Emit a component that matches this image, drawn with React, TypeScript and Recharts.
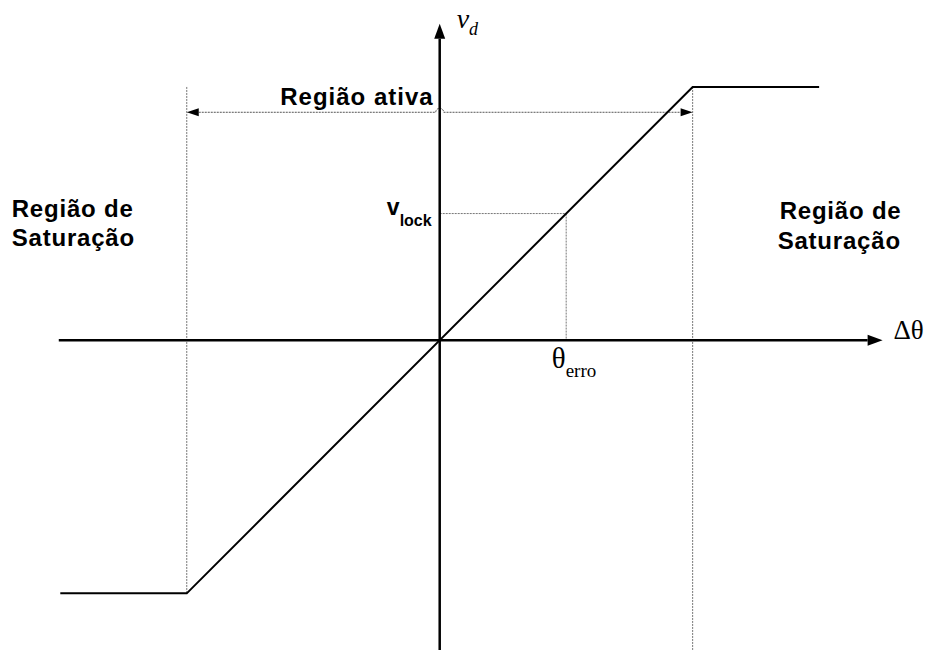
import { LineChart, Line, XAxis, YAxis, ReferenceLine, ReferenceDot } from 'recharts';

// phase detector characteristic: vd vs phase error (saturation at +-1)
const phaseError = [-1.5, -1, 1, 1.5];
const detectorOut = [-1, -1, 1, 1];

const activeRange = [-1, 1];
const thetaErro = 0.5;
const vLock = 0.5;

const axisX = [-1.506, 1.751];
const axisY = [-1.23, 1.25];
const activeArrowY = 0.9;

const data = phaseError.map((x, i) => ({ x, vd: detectorOut[i] }));

const SANS = '"Liberation Sans", Arial, sans-serif';
const SERIF = '"Liberation Serif", "Times New Roman", serif';

const arrowAxis = (props: any) => {
  const { x1, y1, x2, y2 } = props;
  const ang = Math.atan2(y2 - y1, x2 - x1);
  const len = 15;
  const half = 5.5;
  const bx = x2 - len * Math.cos(ang);
  const by = y2 - len * Math.sin(ang);
  const px = -Math.sin(ang) * half;
  const py = Math.cos(ang) * half;
  return (
    <g>
      <line x1={x1} y1={y1} x2={bx} y2={by} stroke="#000" strokeWidth={2.5} />
      <polygon points={`${x2},${y2} ${bx + px},${by + py} ${bx - px},${by - py}`} fill="#000" />
    </g>
  );
};

const dottedLine = (props: any) => {
  const { x1, y1, x2, y2 } = props;
  return <line x1={x1} y1={y1} x2={x2} y2={y2} stroke="#777" strokeWidth={1} strokeDasharray="2 1" />;
};

const doubleArrow = (props: any) => {
  const { x1, y1, x2 } = props;
  const y = y1;
  const left = Math.min(x1, x2);
  const right = Math.max(x1, x2);
  const mid = props.hopX;
  const len = 12;
  const half = 4;
  return (
    <g>
      <path
        d={`M${left + len},${y} L${mid - 4},${y} A4 4 0 0 1 ${mid + 4},${y} L${right - len},${y}`}
        stroke="#555"
        strokeWidth={1}
        strokeDasharray="2 1"
        fill="none"
      />
      <polygon points={`${left},${y} ${left + len},${y - half} ${left + len},${y + half}`} fill="#000" />
      <polygon points={`${right},${y} ${right - len},${y - half} ${right - len},${y + half}`} fill="#000" />
    </g>
  );
};

export default function App() {
  return (
    <div style={{ position: 'absolute', left: 0, top: 0, background: '#fff' }}>
      <LineChart width={928} height={650} data={data} margin={{ top: 11, right: 33, bottom: 6, left: 35 }}>
        <XAxis dataKey="x" type="number" domain={[-1.6, 1.8]} allowDataOverflow hide />
        <YAxis type="number" domain={[-1.2, 1.3]} allowDataOverflow hide />

        {/* guides */}
        <ReferenceLine segment={[{ x: activeRange[0], y: 1 }, { x: activeRange[0], y: -1 }]} ifOverflow="visible" shape={dottedLine} />
        <ReferenceLine segment={[{ x: activeRange[1], y: 1 }, { x: activeRange[1], y: axisY[0] }]} ifOverflow="visible" shape={dottedLine} />
        <ReferenceLine segment={[{ x: 0, y: vLock }, { x: thetaErro, y: vLock }]} ifOverflow="visible" shape={dottedLine} />
        <ReferenceLine segment={[{ x: thetaErro, y: vLock }, { x: thetaErro, y: 0 }]} ifOverflow="visible" shape={dottedLine} />
        <ReferenceLine
          segment={[{ x: activeRange[0], y: activeArrowY }, { x: activeRange[1], y: activeArrowY }]}
          ifOverflow="visible"
          shape={(p: any) => doubleArrow({ ...p, hopX: 35 + 1.6 * (860 / 3.4) })}
        />

        {/* axes */}
        <ReferenceLine segment={[{ x: axisX[0], y: 0 }, { x: axisX[1], y: 0 }]} ifOverflow="visible" shape={arrowAxis} />
        <ReferenceLine segment={[{ x: 0, y: axisY[0] }, { x: 0, y: axisY[1] }]} ifOverflow="visible" shape={arrowAxis} />

        <Line dataKey="vd" type="linear" stroke="#000" strokeWidth={2} dot={false} isAnimationActive={false} />

        {/* labels */}
        <ReferenceDot
          x={-0.024}
          y={0.929}
          ifOverflow="visible"
          shape={(p: any) => (
            <text x={p.cx} y={p.cy} textAnchor="end" fontFamily={SANS} fontWeight="bold" fontSize={24} letterSpacing={1}>
              Região ativa
            </text>
          )}
        />
        <ReferenceDot
          x={-1.692}
          y={0.486}
          ifOverflow="visible"
          shape={(p: any) => (
            <text x={p.cx} y={p.cy} fontFamily={SANS} fontWeight="bold" fontSize={24} letterSpacing={0.8}>
              <tspan x={p.cx}>Região de</tspan>
              <tspan x={p.cx} dy={29}>Saturação</tspan>
            </text>
          )}
        />
        <ReferenceDot
          x={1.336}
          y={0.478}
          ifOverflow="visible"
          shape={(p: any) => (
            <text x={p.cx} y={p.cy} fontFamily={SANS} fontWeight="bold" fontSize={24} letterSpacing={0.8}>
              <tspan x={p.cx + 2}>Região de</tspan>
              <tspan x={p.cx} dy={30}>Saturação</tspan>
            </text>
          )}
        />
        <ReferenceDot
          x={-0.209}
          y={0.494}
          ifOverflow="visible"
          shape={(p: any) => (
            <text x={p.cx} y={p.cy} fontFamily={SANS} fontWeight="bold" fontSize={23}>
              v
              <tspan fontSize={16} dy={11}>lock</tspan>
            </text>
          )}
        />
        <ReferenceDot
          x={0.443}
          y={-0.111}
          ifOverflow="visible"
          shape={(p: any) => (
            <text x={p.cx} y={p.cy} fontFamily={SERIF} fontSize={29}>
              θ
              <tspan fontSize={19} dy={9}>erro</tspan>
            </text>
          )}
        />
        <ReferenceDot
          x={1.794}
          y={0.004}
          ifOverflow="visible"
          shape={(p: any) => (
            <text x={p.cx} y={p.cy} fontFamily={SERIF} fontSize={27}>
              Δθ
            </text>
          )}
        />
        <ReferenceDot
          x={0.067}
          y={1.233}
          ifOverflow="visible"
          shape={(p: any) => (
            <text x={p.cx} y={p.cy} fontFamily={SERIF} fontStyle="italic" fontSize={28}>
              v
              <tspan fontSize={18} dy={7}>d</tspan>
            </text>
          )}
        />
      </LineChart>
    </div>
  );
}
